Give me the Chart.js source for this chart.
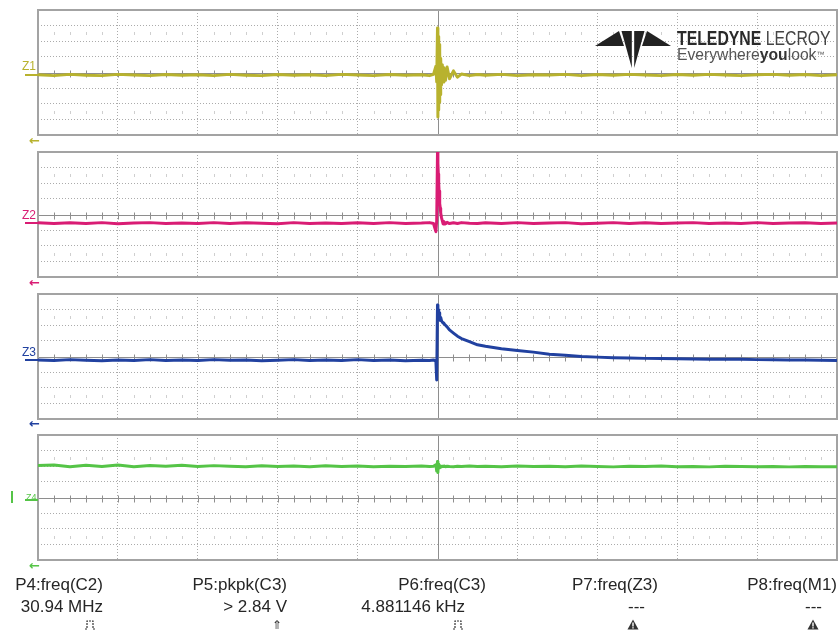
<!DOCTYPE html>
<html>
<head>
<meta charset="utf-8">
<script src="https://cdn.jsdelivr.net/npm/chart.js@4.4.1/dist/chart.umd.min.js"></script>
<style>
  html, body { margin: 0; padding: 0; background: #fff; width: 839px; height: 633px; overflow: hidden; }
  body { position: relative; font-family: 'Liberation Sans', Arial, sans-serif; }
  .panel { position: absolute; left: 32px; }
  .txt { position: absolute; white-space: nowrap; line-height: 17px; font-size: 17px; color: #262626; }
  .zlab { position: absolute; font-size: 12px; line-height: 12px; }
  .mark { position: absolute; height: 2px; left: 25px; width: 13px; }
  .arrow { position: absolute; left: 29px; font: bold 13px 'DejaVu Sans', sans-serif; line-height: 13px; }
  .icon { position: absolute; top: 619px; font-size: 12px; line-height: 12px; color: #333; }
</style>
</head>
<body>
<div class="panel" style="top:4px"><canvas id="c1" width="807" height="137"></canvas></div>
<div class="panel" style="top:146px"><canvas id="c2" width="807" height="137"></canvas></div>
<div class="panel" style="top:288px"><canvas id="c3" width="807" height="137"></canvas></div>
<div class="panel" style="top:429px"><canvas id="c4" width="807" height="137"></canvas></div>

<!-- Teledyne LeCroy logo -->
<svg style="position:absolute;left:0;top:0" width="839" height="633">
  <polygon points="595,46 619,31 624,46" fill="#222"/>
  <polygon points="621.5,31 631.8,31 631.8,68" fill="#222"/>
  <polygon points="634.2,31 644.5,31 634.2,68" fill="#222"/>
  <polygon points="671,46 647,31 642,46" fill="#222"/>
</svg>
<div style="position:absolute;left:677px;top:28px;font-size:20px;line-height:20px;white-space:nowrap;transform:scaleX(0.79);transform-origin:left;color:#2a2a2a"><b>TELEDYNE</b> <span style="color:#444">LECROY</span></div>
<div style="position:absolute;left:677px;top:47px;font-size:16px;line-height:16px;white-space:nowrap;transform:scaleX(0.98);transform-origin:left;color:#555">Everywhere<b style="color:#333">you</b>look<span style="font-size:8px;vertical-align:top">™</span></div>

<div id="overlay"></div>

<script>
// tijdas in schermdivisies (10 horizontaal), dicht rond de trigger op 5.0
const timeDiv = [
  0, 0.2, 0.4, 0.6, 0.8, 1.0, 1.2, 1.4, 1.6, 1.8,
  2.0, 2.2, 2.4, 2.6, 2.8, 3.0, 3.2, 3.4, 3.6, 3.8,
  4.0, 4.2, 4.4, 4.6, 4.8, 4.9, 4.95, 4.98, 4.99, 5.0,
  5.005, 5.01, 5.015, 5.02, 5.025, 5.03, 5.035, 5.04, 5.05, 5.06,
  5.07, 5.08, 5.1, 5.12, 5.15, 5.2, 5.25, 5.3, 5.4, 5.5,
  5.6, 5.8, 6.0, 6.2, 6.4, 6.6, 6.8, 7.0, 7.2, 7.4,
  7.6, 7.8, 8.0, 8.2, 8.4, 8.6, 8.8, 9.0, 9.2, 9.4,
  9.6, 9.8, 10.0
];

// Z1 (geel): ringing burst op de trigger
const z1 = [
  -0.14, -0.2, -0.12, -0.18, -0.2, -0.12, -0.16, -0.2, -0.13, -0.18,
  -0.14, -0.2, -0.12, -0.17, -0.2, -0.13, -0.18, -0.14, -0.2, -0.12,
  -0.16, -0.2, -0.13, -0.18, -0.14, -0.2, -0.12, 0.4, -0.6, 2.85,
  -2.85, 2.3, -2.4, 1.8, -1.9, 1.3, -1.4, 0.9, -0.8, 0.5,
  -0.6, 0.3, -0.5, 0.35, -0.4, 0.1, -0.3, -0.1, -0.2, -0.13,
  -0.18, -0.12, -0.2, -0.14, -0.16, -0.12, -0.2, -0.13, -0.18, -0.12,
  -0.16, -0.2, -0.13, -0.18, -0.12, -0.16, -0.2, -0.14, -0.12, -0.18,
  -0.13, -0.2, -0.15
];

// Z2 (magenta): korte piek tot bovenrand
const z2 = [
  -0.52, -0.58, -0.53, -0.57, -0.52, -0.59, -0.55, -0.52, -0.58, -0.54,
  -0.57, -0.52, -0.58, -0.53, -0.56, -0.59, -0.52, -0.57, -0.54, -0.58,
  -0.53, -0.57, -0.52, -0.58, -0.55, -0.52, -0.58, -1.1, -0.4, 4.0,
  3.3, 2.6, 2.0, 1.5, 1.1, 0.7, 0.4, 0.1, -0.2, -0.4,
  -0.6, -0.45, -0.6, -0.5, -0.58, -0.53, -0.58, -0.52, -0.56, -0.58,
  -0.53, -0.57, -0.52, -0.58, -0.54, -0.52, -0.59, -0.56, -0.52, -0.57,
  -0.53, -0.58, -0.55, -0.52, -0.58, -0.54, -0.57, -0.52, -0.58, -0.55,
  -0.53, -0.57, -0.55
];

// Z3 (blauw): sprong en langzame terugval
const z3 = [
  -0.22, -0.26, -0.2, -0.24, -0.27, -0.22, -0.25, -0.2, -0.26, -0.23,
  -0.26, -0.2, -0.24, -0.22, -0.27, -0.24, -0.2, -0.26, -0.22, -0.25,
  -0.2, -0.26, -0.22, -0.27, -0.24, -0.26, -0.22, -0.3, -1.5, 3.3,
  2.4, 3.0, 2.5, 2.8, 2.4, 2.6, 2.3, 2.5, 2.3, 2.2,
  2.15, 2.1, 2.0, 1.9, 1.7, 1.5, 1.3, 1.15, 0.95, 0.75,
  0.65, 0.5, 0.38, 0.28, 0.15, 0.08, 0.0, -0.04, -0.08, -0.1,
  -0.12, -0.13, -0.15, -0.16, -0.17, -0.18, -0.18, -0.2, -0.2, -0.22,
  -0.22, -0.24, -0.25
];

// Z4 (groen): vlak op +2 div met klein glitchje
const z4 = [
  2.04, 2.08, 1.97, 2.06, 1.98, 2.08, 1.97, 2.05, 2.0, 2.07,
  1.98, 2.04, 2.0, 1.97, 2.03, 1.98, 2.02, 1.97, 2.03, 1.98,
  2.02, 1.97, 2.0, 1.98, 2.02, 1.98, 2.0, 2.1, 1.7, 2.3,
  1.6, 2.15, 1.85, 2.05, 1.9, 2.0, 1.95, 2.02, 1.96, 2.0,
  1.98, 2.02, 1.97, 2.0, 1.98, 1.97, 2.0, 1.98, 2.02, 1.98,
  2.0, 1.97, 2.02, 1.98, 2.0, 1.97, 2.01, 1.98, 1.96, 2.0,
  1.98, 2.01, 1.97, 1.99, 1.96, 2.0, 1.98, 1.97, 1.99, 1.96,
  1.98, 1.97, 1.97
];

const traceNames = ['Z1', 'Z2', 'Z3', 'Z4'];
const traceColors = ['#b8b22e', '#d91c74', '#2141a0', '#55c447'];

const measureLabels = ['P4:freq(C2)', 'P5:pkpk(C3)', 'P6:freq(C3)', 'P7:freq(Z3)', 'P8:freq(M1)'];
const measureValues = ['30.94 MHz', '> 2.84 V', '4.881146 kHz', '---', '---'];

// Grid: middenlijnen, streepjes op de horizontale middenlijn, kader en lichte stipjes op +-2.5 div
const scopeFrame = {
    id: 'scopeFrame',
    beforeDatasetsDraw(chart) {
        const { ctx, chartArea: a, scales: { x, y } } = chart;
        const cx = Math.round(x.getPixelForValue(5)) + 0.5;
        const cy = Math.round(y.getPixelForValue(0)) + 0.5;
        ctx.save();
        ctx.strokeStyle = '#8e8e8e';
        ctx.lineWidth = 1;
        ctx.beginPath();
        ctx.moveTo(a.left, cy); ctx.lineTo(a.right, cy);
        ctx.moveTo(cx, a.top); ctx.lineTo(cx, a.bottom);
        for (let i = 1; i < 50; i++) {
            const px = Math.round(x.getPixelForValue(i * 0.2)) + 0.5;
            ctx.moveTo(px, cy - 3); ctx.lineTo(px, cy + 4);
        }
        ctx.stroke();

        ctx.strokeStyle = '#cfcfcf';
        ctx.beginPath();
        [2.5, -2.5].forEach(v => {
            const py = Math.round(y.getPixelForValue(v));
            for (let i = 1; i < 50; i++) {
                if (i % 5 === 0) continue;
                const px = Math.round(x.getPixelForValue(i * 0.2)) + 0.5;
                ctx.moveTo(px, py - 1); ctx.lineTo(px, py + 2);
            }
        });
        ctx.stroke();

        ctx.strokeStyle = '#a3a3a3';
        ctx.lineWidth = 2;
        ctx.strokeRect(a.left, a.top, a.right - a.left, a.bottom - a.top);
        ctx.restore();
    }
};

function dotted(mid) {
    return ctx => (ctx.tick && (ctx.tick.value === mid) ? 'rgba(0,0,0,0)' : '#ababab');
}

function createScopePanel(id, values, color) {
    new Chart(document.getElementById(id), {
        type: 'line',
        data: {
            datasets: [{
                label: id,
                data: timeDiv.map((t, i) => ({ x: t, y: values[i] })),
                borderColor: color, backgroundColor: color,
                borderWidth: 3, pointRadius: 0, tension: 0, borderJoinStyle: 'round'
            }]
        },
        options: {
            responsive: false, animation: false,
            layout: { padding: { left: 6, right: 2, top: 6, bottom: 6 } },
            plugins: { legend: { display: false }, tooltip: { enabled: false } },
            scales: {
                x: {
                    type: 'linear', min: 0, max: 10,
                    ticks: { display: false, stepSize: 1 },
                    grid: { color: dotted(5), drawTicks: false },
                    border: { display: false, dash: [1, 2] }
                },
                y: {
                    min: -4, max: 4,
                    ticks: { display: false, stepSize: 1 },
                    grid: { color: dotted(0), drawTicks: false },
                    border: { display: false, dash: [1, 2] }
                }
            }
        },
        plugins: [scopeFrame]
    });
}

createScopePanel('c1', z1, traceColors[0]);
createScopePanel('c2', z2, traceColors[1]);
createScopePanel('c3', z3, traceColors[2]);
createScopePanel('c4', z4, traceColors[3]);

// Labels, markers en pijltjes links van elk paneel
const overlay = document.getElementById('overlay');
const labelTop = [60, 209, 346, 491];
const markerTop = [74, 222, 359, 499];
const arrowTop = [134, 276, 417, 559];
traceNames.forEach((name, i) => {
    overlay.insertAdjacentHTML('beforeend',
        `<div class="zlab" style="left:${i === 3 ? 26 : 22}px;top:${labelTop[i]}px;color:${traceColors[i]};${i === 3 ? 'font-size:9px;' : ''}">${name}</div>` +
        `<div class="mark" style="top:${markerTop[i]}px;background:${traceColors[i]}"></div>` +
        `<div class="arrow" style="top:${arrowTop[i]}px;color:${traceColors[i]}">&#8592;</div>`);
});
overlay.insertAdjacentHTML('beforeend', `<div style="position:absolute;left:11px;top:491px;width:2px;height:12px;background:${traceColors[3]}"></div>`);

// Meetwaarden onderaan
const labelRight = [103, 287, 486, 658, 837];
const valueRight = [103, 287, 465, 645, 822];
const iconX = [90, 278, 458, 633, 813];
const pulseIcon = '<svg width="12" height="11"><path d="M1,10 H3 V2 H9 V10 H11" fill="none" stroke="#333" stroke-width="1.2" stroke-dasharray="2,1"/></svg>';
const warnIcon = '<svg width="12" height="11"><polygon points="6,0.5 11.5,10.5 0.5,10.5" fill="#333"/><rect x="5.3" y="3.5" width="1.4" height="4" fill="#fff"/><rect x="5.3" y="8.2" width="1.4" height="1.3" fill="#fff"/></svg>';
const icons = [pulseIcon, '&#8657;', pulseIcon, warnIcon, warnIcon];
measureLabels.forEach((lab, i) => {
    overlay.insertAdjacentHTML('beforeend',
        `<div class="txt" style="right:${839 - labelRight[i]}px;top:576px">${lab}</div>` +
        `<div class="txt" style="right:${839 - valueRight[i]}px;top:598px">${measureValues[i]}</div>` +
        `<div class="icon" style="left:${iconX[i] - 6}px">${icons[i]}</div>`);
});
</script>
</body>
</html>
